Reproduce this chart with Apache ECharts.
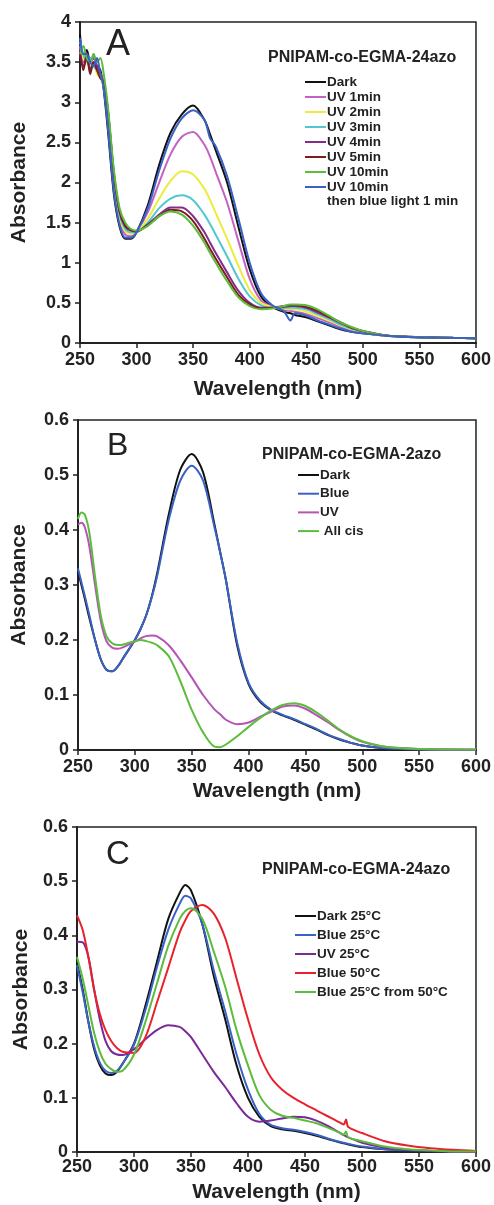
<!DOCTYPE html>
<html>
<head>
<meta charset="utf-8">
<script src="https://cdn.jsdelivr.net/npm/echarts@6/dist/echarts.min.js"></script>
<style>
  html, body { margin: 0; background: #fff; }
  #chart { width: 494px; height: 1205px; }
</style>
</head>
<body>
<div id="chart"></div>
<script>
// panel A - PNIPAM-co-EGMA-24azo, UV irradiation series
const wlA = [250,253,256,259,262,265,268,271,275,280,285,290,295,300,310,320,330,340,350,360,365,370,380,390,400,410,420,430,436,440,450,460,470,480,490,500,520,540,560,580,600];
const darkA = [3.85,3.55,3.65,3.5,3.55,3.45,3.4, 3.15,2.6,1.85,1.45,1.3,1.3,1.38, 1.72,2.22,2.62,2.85,2.96,2.78,2.6,2.4,2.0,1.45,0.92,0.58,0.45,0.39,0.37,0.35,0.32,0.27,0.22,0.17,0.14,0.12, 0.09,0.075,0.068,0.063,0.06];
const uv1A = [3.7,3.5,3.55,3.4,3.6,3.4,3.35, 3.2,2.7,1.95,1.52,1.35,1.33,1.39, 1.63,2.0,2.35,2.57,2.63,2.47,2.32,2.13,1.75,1.27,0.8,0.53,0.45,0.41,0.4,0.39,0.36,0.31,0.26,0.2,0.16,0.13, 0.09,0.075,0.068,0.063,0.06];
const uv2A = [3.65,3.55,3.5,3.45,3.5,3.35,3.3, 3.2,2.75,2.0,1.56,1.39,1.36,1.38, 1.55,1.8,2.02,2.14,2.1,1.92,1.78,1.62,1.3,0.96,0.66,0.5,0.45,0.43,0.42,0.42,0.39,0.34,0.28,0.22,0.17,0.135, 0.09,0.075,0.068,0.063,0.06];
const uv3A = [3.75,3.6,3.5,3.55,3.45,3.4,3.35, 3.22,2.8,2.05,1.6,1.42,1.38,1.38, 1.5,1.68,1.8,1.84,1.78,1.6,1.48,1.35,1.08,0.8,0.58,0.47,0.44,0.44,0.44,0.44,0.42,0.36,0.3,0.23,0.18,0.14, 0.09,0.075,0.068,0.063,0.06];
const uv4A = [3.6,3.45,3.55,3.4,3.5,3.45,3.35, 3.25,2.85,2.1,1.63,1.45,1.4,1.39, 1.48,1.6,1.69,1.69,1.58,1.38,1.25,1.12,0.88,0.65,0.5,0.44,0.44,0.45,0.46,0.46,0.44,0.38,0.32,0.25,0.19,0.145, 0.095,0.078,0.07,0.064,0.06];
const uv5A = [3.65,3.4,3.6,3.35,3.5,3.4,3.3, 3.25,2.85,2.1,1.64,1.46,1.41,1.39, 1.47,1.58,1.66,1.64,1.52,1.3,1.17,1.05,0.82,0.6,0.48,0.43,0.44,0.46,0.47,0.47,0.45,0.4,0.33,0.26,0.19,0.15, 0.095,0.078,0.07,0.064,0.06];
const uv10A = [3.6,3.7,3.55,3.5,3.6,3.5,3.55, 3.35,2.9,2.15,1.68,1.5,1.42,1.4, 1.46,1.58,1.64,1.6,1.46,1.25,1.12,1.0,0.77,0.57,0.46,0.42,0.43,0.46,0.48,0.48,0.47,0.42,0.34,0.26,0.2,0.15, 0.095,0.078,0.07,0.064,0.06];
const uvBlueA = [3.8,3.6,3.6,3.5,3.45,3.55,3.35, 3.18,2.65,1.88,1.47,1.31,1.31,1.38, 1.68,2.15,2.55,2.8,2.9,2.78,2.55,2.45,2.08,1.55,1.0,0.62,0.47,0.4,0.28,0.37,0.34,0.28,0.23,0.18,0.14,0.12, 0.09,0.075,0.068,0.063,0.06];

// panel B - PNIPAM-co-EGMA-2azo
const wlB = [250,253,256,260,265,270,275,280,285,290,300,305,310,315,320,330,340,350,360,370,375,380,390,400,410,420,430,440,450,460,470,480,490,500,520,550,600];
const darkB = [0.325,0.3,0.275,0.24,0.2,0.165,0.146,0.143,0.152,0.168, 0.2,0.22,0.245,0.28,0.325,0.43, 0.51,0.538,0.505,0.41,0.36,0.31,0.19,0.12, 0.088,0.072,0.063,0.055,0.046,0.037,0.027,0.019,0.013,0.008, 0.003,0.001,0];
const blueB = [0.33,0.305,0.28,0.245,0.2,0.165,0.146,0.143,0.152,0.168, 0.2,0.22,0.245,0.278,0.32,0.42, 0.49,0.517,0.49,0.405,0.36,0.31,0.195,0.122, 0.09,0.073,0.064,0.056,0.047,0.038,0.028,0.02,0.013,0.008, 0.003,0.001,0];
const uvB = [0.41,0.413,0.405,0.37,0.3,0.235,0.198,0.186,0.184,0.187, 0.197,0.203,0.207,0.208,0.206,0.19, 0.163,0.132,0.1,0.074,0.065,0.055,0.047,0.05, 0.06,0.07,0.079,0.081,0.075,0.063,0.05,0.036,0.024,0.015, 0.006,0.002,0.001];
const cisB = [0.42,0.432,0.428,0.395,0.315,0.245,0.207,0.194,0.191,0.192, 0.198,0.2,0.198,0.195,0.19,0.17, 0.125,0.073,0.032,0.006,0.005,0.01,0.025,0.042, 0.058,0.072,0.082,0.085,0.08,0.068,0.053,0.037,0.025,0.016, 0.006,0.002,0.001];

// panel C - PNIPAM-co-EGMA-24azo, temperature
const wlC = [250,255,260,265,270,275,280,285,290,300,310,320,330,340,345,350,360,370,380,390,400,410,420,430,440,450,460,470,480,484,486,488,500,520,540,560,580,600];
const dark25C = [0.35,0.3,0.24,0.19,0.16,0.145,0.142,0.148,0.163, 0.2,0.27,0.35,0.43,0.478,0.493,0.483,0.42,0.325,0.245,0.16, 0.1,0.065,0.048,0.042,0.039,0.035,0.03,0.024,0.018, 0.016,0.015,0.014, 0.009,0.005,0.003,0.002,0.001,0];
const blue25C = [0.345,0.295,0.24,0.195,0.165,0.15,0.146,0.15,0.163, 0.198,0.262,0.34,0.41,0.458,0.473,0.468,0.42,0.335,0.26,0.18, 0.115,0.07,0.05,0.044,0.041,0.037,0.032,0.025,0.019, 0.017,0.016,0.015, 0.01,0.005,0.003,0.002,0.001,0];
const uv25C = [0.388,0.387,0.36,0.3,0.245,0.205,0.186,0.18,0.179, 0.19,0.208,0.225,0.234,0.231,0.223,0.212,0.18,0.148,0.12,0.09, 0.065,0.056,0.058,0.062,0.065,0.064,0.058,0.048,0.036, 0.031,0.029,0.027, 0.017,0.008,0.004,0.002,0.001,0];
const blue50C = [0.437,0.41,0.36,0.3,0.255,0.225,0.205,0.192,0.185, 0.183,0.212,0.275,0.34,0.405,0.428,0.445,0.456,0.44,0.395,0.32, 0.245,0.18,0.138,0.115,0.1,0.088,0.077,0.066,0.055, 0.051,0.06,0.046, 0.035,0.02,0.012,0.007,0.004,0.002];
const blueFrom50C = [0.36,0.32,0.27,0.22,0.185,0.163,0.153,0.148,0.15, 0.18,0.24,0.31,0.38,0.43,0.445,0.45,0.43,0.37,0.305,0.225, 0.16,0.105,0.078,0.067,0.063,0.058,0.053,0.045,0.036, 0.032,0.038,0.027, 0.02,0.01,0.005,0.003,0.001,0.001];

const xTicks = { min: 250, max: 600, interval: 50 };
const font = 'Liberation Sans, Arial, sans-serif';

function pairs(xs, ys) {
  return xs.map(function (x, i) { return [x, ys[i]] });
}

function gen_series(panel, wl, list) {
  return list.map(function (s) {
    return {
      name: s.name,
      type: 'line',
      xAxisIndex: panel,
      yAxisIndex: panel,
      data: pairs(wl, s.data),
      showSymbol: false,
      smooth: 0.3,
      lineStyle: { color: s.color, width: 2 },
      itemStyle: { color: s.color },
      animation: false
    };
  });
}

function xAxis(panel, labelMargin, nameGap) {
  return {
    type: 'value', gridIndex: panel,
    min: xTicks.min, max: xTicks.max, interval: xTicks.interval,
    name: 'Wavelength (nm)', nameLocation: 'middle', nameGap: nameGap,
    nameTextStyle: { fontFamily: font, fontWeight: 'bold', fontSize: 21, color: '#222' },
    axisLine: { lineStyle: { color: '#222', width: 2 } },
    axisTick: { length: 5, lineStyle: { color: '#222', width: 1.5 } },
    axisLabel: { fontFamily: font, fontWeight: 'bold', fontSize: 18, color: '#222', margin: labelMargin },
    splitLine: { show: false }
  };
}

function yAxis(panel, max, interval, nameGap) {
  return {
    type: 'value', gridIndex: panel,
    min: 0, max: max, interval: interval,
    name: 'Absorbance', nameLocation: 'middle', nameGap: nameGap,
    nameTextStyle: { fontFamily: font, fontWeight: 'bold', fontSize: 21, color: '#222' },
    axisLine: { show: true, lineStyle: { color: '#222', width: 2 } },
    axisTick: { show: true, length: 5, lineStyle: { color: '#222', width: 1.5 } },
    axisLabel: { fontFamily: font, fontWeight: 'bold', fontSize: 18, color: '#222', margin: 9 },
    splitLine: { show: false }
  };
}

function legend(names, left, top, gap) {
  return {
    data: names, orient: 'vertical', left: left, top: top,
    icon: 'rect', itemWidth: 21, itemHeight: 2, itemGap: gap, padding: 0,
    selectedMode: false,
    textStyle: { fontFamily: font, fontWeight: 'bold', fontSize: 13.5, lineHeight: 14, color: '#222', padding: [0, 0, 0, -4] },
    formatter: function (n) { return n === 'UV 10min then blue light 1 min' ? 'UV 10min' : n; }
  };
}

function label(text, left, top, size, weight) {
  return {
    text: text, left: left, top: top, padding: 0,
    textStyle: { fontFamily: font, fontSize: size, fontWeight: weight, color: '#222' }
  };
}

const seriesA = gen_series(0, wlA, [
  { name: 'Dark', color: '#111111', data: darkA },
  { name: 'UV 1min', color: '#c462c4', data: uv1A },
  { name: 'UV 2min', color: '#ecec3c', data: uv2A },
  { name: 'UV 3min', color: '#52c6d2', data: uv3A },
  { name: 'UV 4min', color: '#842c8c', data: uv4A },
  { name: 'UV 5min', color: '#7c1c1c', data: uv5A },
  { name: 'UV 10min', color: '#5cbc3c', data: uv10A },
  { name: 'UV 10min then blue light 1 min', color: '#3a62c4', data: uvBlueA }
]);
const seriesB = gen_series(1, wlB, [
  { name: 'Dark', color: '#111111', data: darkB },
  { name: 'Blue', color: '#3a62c4', data: blueB },
  { name: 'UV', color: '#b654b6', data: uvB },
  { name: ' All cis', color: '#5cbc3c', data: cisB }
]);
const seriesC = gen_series(2, wlC, [
  { name: 'Dark 25°C', color: '#111111', data: dark25C },
  { name: 'Blue 25°C', color: '#3a62c4', data: blue25C },
  { name: 'UV 25°C', color: '#7a2a98', data: uv25C },
  { name: 'Blue 50°C', color: '#e8222c', data: blue50C },
  { name: 'Blue 25°C from 50°C', color: '#5cbc3c', data: blueFrom50C }
]);

const chart = echarts.init(document.getElementById('chart'));
chart.setOption({
  backgroundColor: '#fff',
  title: [
    label('A', 106, 27, 36, 'normal'),
    label('B', 107, 430, 32, 'normal'),
    label('C', 106, 838, 33, 'normal'),
    label('PNIPAM-co-EGMA-24azo', 268, 50, 16, 'bold'),
    label('PNIPAM-co-EGMA-2azo', 262, 447, 16, 'bold'),
    label('PNIPAM-co-EGMA-24azo', 262, 862, 16, 'bold'),
    label('then blue light 1 min', 327, 194, 13.5, 'bold')
  ],
  legend: [
    legend(['Dark', 'UV 1min', 'UV 2min', 'UV 3min', 'UV 4min', 'UV 5min', 'UV 10min', 'UV 10min then blue light 1 min'], 305, 75, 1),
    legend(['Dark', 'Blue', 'UV', ' All cis'], 298, 468, 4.7),
    legend(['Dark 25°C', 'Blue 25°C', 'UV 25°C', 'Blue 50°C', 'Blue 25°C from 50°C'], 295, 909, 5)
  ],
  grid: [
    { left: 80, top: 22, width: 397, height: 321, show: true, borderColor: '#222', borderWidth: 1.5 },
    { left: 78, top: 420, width: 400, height: 330, show: true, borderColor: '#222', borderWidth: 1.5 },
    { left: 77, top: 827, width: 400, height: 325, show: true, borderColor: '#222', borderWidth: 1.5 }
  ],
  xAxis: [xAxis(0, 8, 36), xAxis(1, 8, 31), xAxis(2, 6, 30)],
  yAxis: [yAxis(0, 4, 0.5, 50), yAxis(1, 0.6, 0.1, 48), yAxis(2, 0.6, 0.1, 42)],
  series: seriesA.concat(seriesB, seriesC)
});
</script>
</body>
</html>
